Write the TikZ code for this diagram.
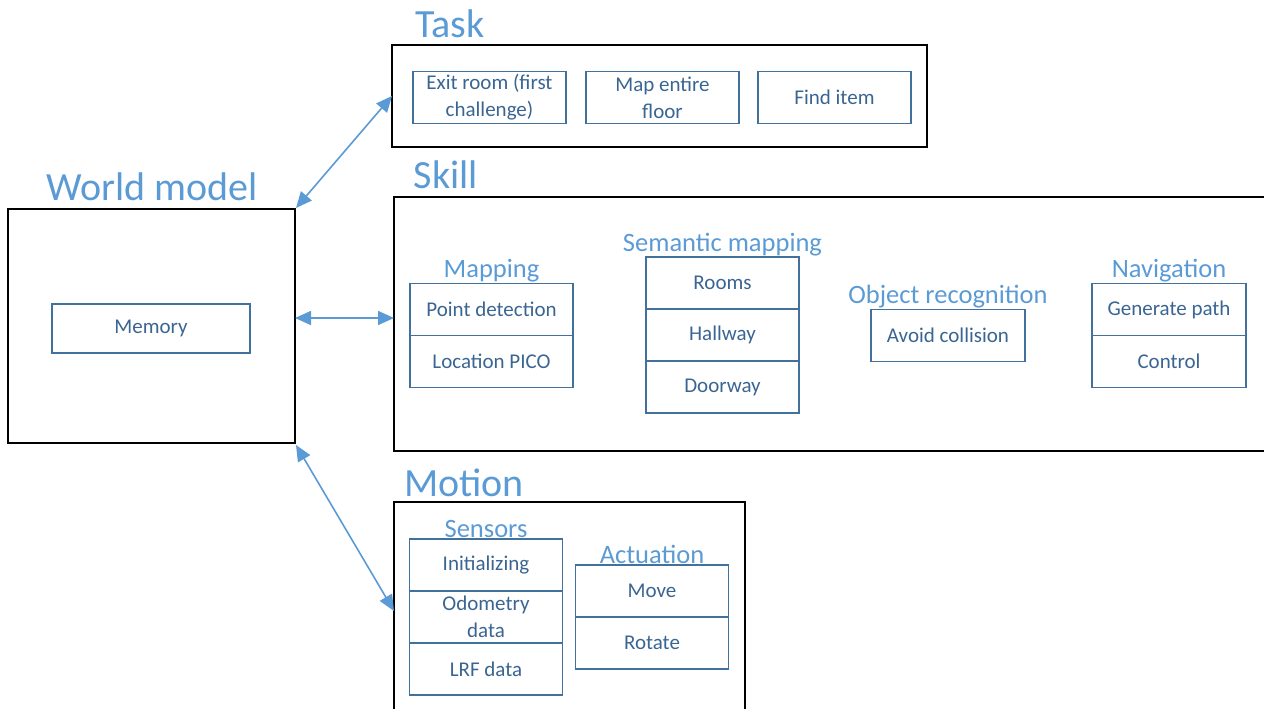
\documentclass[tikz,border=0pt]{standalone}
\usepackage{fontspec}
\setmainfont{Carlito}
\usetikzlibrary{positioning,arrows.meta}
\definecolor{headblue}{HTML}{5B9BD5}
\definecolor{itemline}{HTML}{41719C}
\definecolor{itemtext}{HTML}{3A6592}

\begin{document}
\begin{tikzpicture}[x=1pt,y=-1pt,
  outerbox/.style={draw=black,line width=2.4pt,outer sep=0pt},
  item/.style={draw=itemline,line width=1.2pt,text=itemtext,minimum width=153pt,
    minimum height=52pt,align=center,inner sep=2pt,outer sep=0pt,
    font=\fontsize{21}{27}\selectfont},
  heading/.style={text=headblue,font=\fontsize{40}{42}\selectfont},
  subheading/.style={text=headblue,inner sep=1pt,font=\fontsize{26.5}{28}\selectfont},
  link/.style={draw=headblue,line width=1.6pt,{Triangle[length=16pt,width=14pt]}-{Triangle[length=16pt,width=14pt]}}]
\useasboundingbox (0,0) rectangle (1264,709);
\clip (0,0) rectangle (1264,709);

% outer blocks
\node[outerbox,minimum width=287pt,minimum height=234pt] (world) at (151.5,326) {};
\node[outerbox,minimum width=535pt,minimum height=102pt] (task) at (659.5,96) {};
\node[outerbox,minimum width=881pt,minimum height=254pt] (skill) at (834.5,324) {};
\node[outerbox,minimum width=351pt,minimum height=218pt] (motion) at (569.5,611) {};

\node[heading] at (152,187) {World model};
\node[heading] at (450,24) {Task};
\node[heading] at (446,175) {Skill};
\node[heading] at (464,483) {Motion};

% world model
\node[item,minimum width=198pt,minimum height=49pt] (memory) at (151,328.5) {Memory};

% task
\node[item] (exit) at (489.5,97.5) {Exit room (first\\challenge)};
\node[item] (floor) at (662.5,97.5) {Map entire\\floor};
\node[item] (find) at (834.5,97.5) {Find item};

% skill
\node[item,minimum width=163pt] (point) at (491.5,309.5) {Point detection};
\node[item,minimum width=163pt,below=0pt of point] (location) {Location PICO};
\node[subheading,above=0pt of point] {Mapping};

\node[item] (rooms) at (722.5,283) {Rooms};
\node[item,below=0pt of rooms] (hallway) {Hallway};
\node[item,below=0pt of hallway] (doorway) {Doorway};
\node[subheading,above=0pt of rooms] {Semantic mapping};

\node[item,minimum width=154pt] (avoid) at (948,335.5) {Avoid collision};
\node[subheading,above=0pt of avoid] {Object recognition};

\node[item,minimum width=154pt] (genpath) at (1169,309.5) {Generate path};
\node[item,minimum width=154pt,below=0pt of genpath] (control) {Control};
\node[subheading,above=0pt of genpath] {Navigation};

% motion
\node[item] (init) at (486,565) {Initializing};
\node[item,below=0pt of init] (odometry) {Odometry\\data};
\node[item,below=0pt of odometry] (lrf) {LRF data};
\node[subheading,above=0pt of init] {Sensors};

\node[item] (move) at (652,591) {Move};
\node[item,below=0pt of move] (rotate) {Rotate};
\node[subheading,above=0pt of move] {Actuation};

% links
\draw[link] ([shift={(1pt,1pt)}]world.north east) -- (task.west);
\draw[link] ([yshift=8pt]world.east) -- ([yshift=6pt]skill.west);
\draw[link] ([shift={(1pt,-2pt)}]world.south east) -- (motion.west);
\end{tikzpicture}
\end{document}
